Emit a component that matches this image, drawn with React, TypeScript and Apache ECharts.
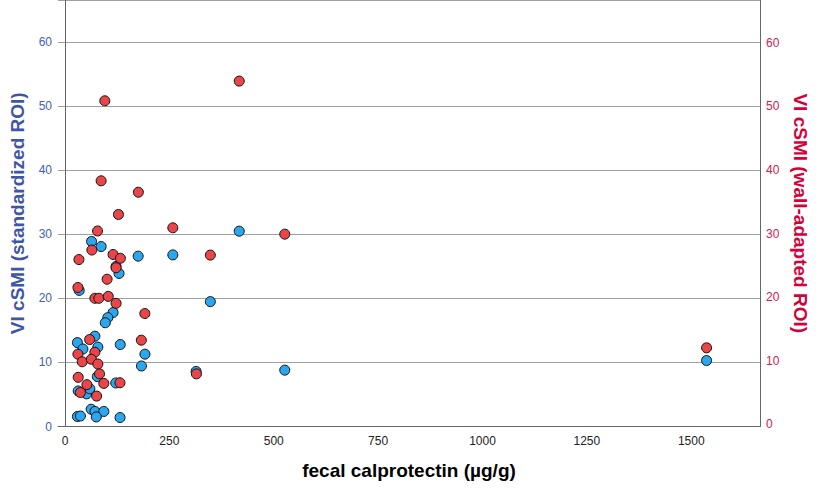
import React, { useEffect, useRef } from "react";
import * as echarts from "echarts";

// Blue: VI cSMI (standardized ROI), left axis
const stdCalprotectin = [63.7, 86.6, 175.3, 122.4, 129.5, 34.1, 115.2, 102.6, 96.6, 71.6, 29.8, 42.9, 78.7, 132.4, 191.5, 183.2, 77.5, 121.6, 31.7, 51.8, 59.6, 62.7, 72.0, 93.0, 75.1, 29.8, 37.0, 131.9, 417.4, 258.3, 348.2, 314.1, 526.4, 1536.7];
const stdRoi = [28.9, 28.1, 26.6, 25.0, 23.9, 21.25, 17.8, 17.0, 16.2, 14.1, 13.1, 12.1, 12.4, 12.8, 11.3, 9.45, 7.8, 6.8, 5.55, 5.1, 5.9, 2.7, 2.35, 2.35, 1.5, 1.56, 1.64, 1.4, 30.5, 26.8, 19.5, 8.6, 8.8, 10.3];

// Red: VI cSMI (wall-adapted ROI), right axis
const wallCalprotectin = [95.4, 417.4, 86.6, 175.8, 128.1, 78.0, 258.3, 526.4, 64.4, 115.2, 132.8, 33.4, 122.4, 100.9, 31.0, 71.6, 81.1, 103.7, 122.4, 191.3, 348.2, 59.1, 182.9, 31.0, 71.6, 41.3, 63.2, 78.7, 82.8, 31.7, 52.5, 93.0, 131.7, 37.0, 75.8, 314.8, 1536.7];
const wallRoi = [50.9, 54.0, 38.3, 36.5, 33.0, 30.4, 30.9, 29.9, 27.4, 26.7, 26.1, 25.9, 24.6, 22.8, 21.5, 19.8, 19.8, 20.1, 19.0, 17.4, 26.6, 13.3, 13.2, 11.0, 11.3, 9.8, 10.2, 9.45, 7.9, 7.35, 6.2, 6.4, 6.5, 4.96, 4.4, 7.9, 12.0];

const xTicks = [0, 250, 500, 750, 1000, 1250, 1500];
const yTicks = [0, 10, 20, 30, 40, 50, 60];

export default function App() {
  const ref = useRef<HTMLDivElement>(null);
  useEffect(() => {
    if (!ref.current) return;
    const chart = echarts.init(ref.current, undefined, { renderer: "svg" });
    const font = "'Liberation Sans', Arial, sans-serif";
    chart.setOption({
      animation: false,
      grid: { left: 55, right: 58, top: 0, bottom: 61.5, containLabel: false },
      xAxis: {
        type: "value",
        min: -16.7,
        max: 1664.7,
        name: "fecal calprotectin (µg/g)",
        nameLocation: "middle",
        nameGap: 34,
        nameTextStyle: { fontFamily: font, fontSize: 19, fontWeight: "bold", color: "#000" },
        axisLine: { show: true, lineStyle: { color: "#666", width: 1 } },
        axisTick: { show: false, customValues: xTicks },
        splitLine: { show: false },
        axisLabel: {
          customValues: xTicks,
          formatter: (v: number) => String(v),
          color: "#222",
          fontFamily: font,
          fontSize: 12,
          margin: 8,
        },
      },
      yAxis: [
        {
          type: "value",
          min: 0,
          max: 66.6,
          interval: 10,
          position: "left",
          name: "VI cSMI (standardized ROI)",
          nameLocation: "middle",
          nameGap: 31,
          nameTextStyle: { fontFamily: font, fontSize: 19, fontWeight: "bold", color: "#3f56a6" },
          axisLine: { show: true, lineStyle: { color: "#666", width: 1 } },
          axisTick: { show: false },
          splitLine: { show: true, lineStyle: { color: "#a0a0a0", width: 1 } },
          axisLabel: {
            color: "#4a5eae",
            fontFamily: font,
            fontSize: 12,
            margin: 6,
            showMaxLabel: false,
            formatter: (v: number) => (v > 60 ? "" : String(v)),
          },
        },
        {
          type: "value",
          min: -0.39,
          max: 66.77,
          position: "right",
          name: "VI cSMI (wall-adapted ROI)",
          nameLocation: "middle",
          nameGap: 31,
          nameRotate: -90,
          nameTextStyle: { fontFamily: font, fontSize: 19, fontWeight: "bold", color: "#d6003a" },
          axisLine: { show: true, onZero: false, lineStyle: { color: "#666", width: 1 } },
          axisTick: { show: false, customValues: yTicks },
          splitLine: { show: false },
          axisLabel: {
            customValues: yTicks,
            formatter: (v: number) => String(v),
            color: "#d0204f",
            fontFamily: font,
            fontSize: 12,
            margin: 6,
          },
        },
      ],
      series: [
        {
          type: "scatter",
          name: "standardized ROI",
          yAxisIndex: 0,
          symbol: "circle",
          symbolSize: 10,
          itemStyle: { color: "#2aa7ee", borderColor: "#111", borderWidth: 1, opacity: 1 },
          data: stdCalprotectin.map((x, i) => [x, stdRoi[i]]),
        },
        {
          type: "scatter",
          name: "wall-adapted ROI",
          yAxisIndex: 1,
          symbol: "circle",
          symbolSize: 10,
          itemStyle: { color: "#ea4548", borderColor: "#111", borderWidth: 1, opacity: 1 },
          data: wallCalprotectin.map((x, i) => [x, wallRoi[i]]),
        },
      ],
    });
    return () => chart.dispose();
  }, []);
  return (
    <div
      ref={ref}
      style={{ position: "fixed", left: 0, top: 0, width: 818, height: 488, background: "#fff" }}
    />
  );
}
